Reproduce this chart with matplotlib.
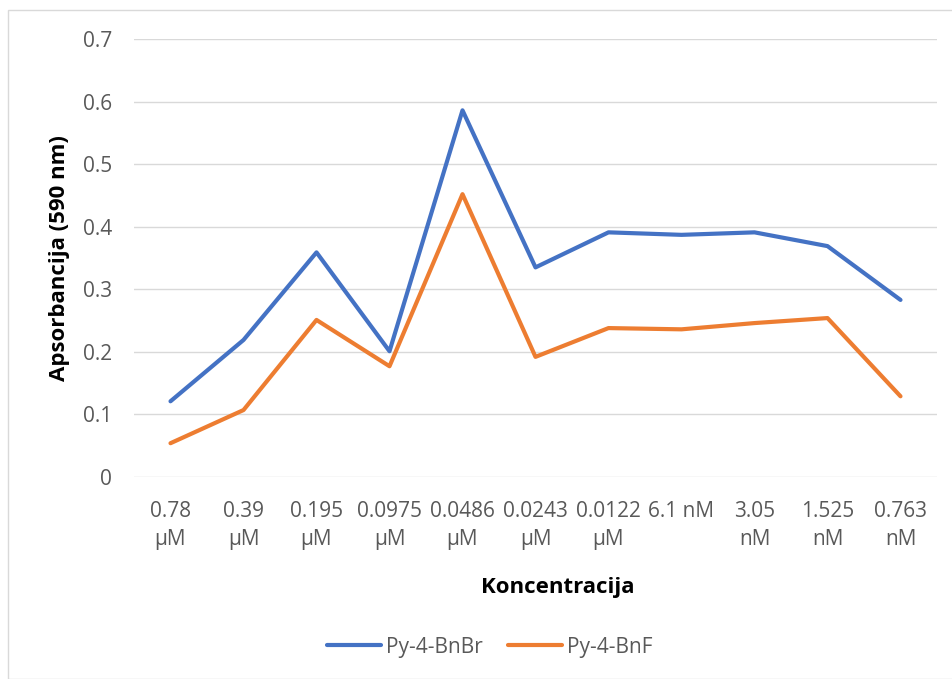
import matplotlib.pyplot as plt
from matplotlib.patches import Rectangle

# === Данные ===
categories = ["0.78\nµM", "0.39\nµM", "0.195\nµM", "0.0975\nµM", "0.0486\nµM",
              "0.0243\nµM", "0.0122\nµM", "6.1 nM\n", "3.05\nnM", "1.525\nnM", "0.763\nnM"]
py_bnbr = [0.121, 0.219, 0.359, 0.201, 0.586, 0.335, 0.391, 0.387, 0.391, 0.369, 0.283]
py_bnf = [0.054, 0.107, 0.251, 0.177, 0.452, 0.192, 0.238, 0.236, 0.246, 0.254, 0.129]
y_ticks = [0, 0.1, 0.2, 0.3, 0.4, 0.5, 0.6, 0.7]

W, H = 952, 679
plt.rcParams['font.family'] = ['Open Sans', 'DejaVu Sans']

fig = plt.figure(figsize=(W / 100, H / 100), dpi=100)
# рамка области диаграммы
fig.patches.append(Rectangle((8 / W, 0), 1, 1 - 10 / H, transform=fig.transFigure,
                             fill=False, edgecolor='#D9D9D9', lw=1))

left, right, top, bottom = 134, 937, 39, 477
ax = fig.add_axes([left / W, 1 - bottom / H, (right - left) / W, (bottom - top) / H])

x = list(range(len(categories)))
ax.plot(x, py_bnbr, color='#4472C4', lw=3, solid_capstyle='round', solid_joinstyle='round',
        label='Py-4-BnBr', zorder=3)
ax.plot(x, py_bnf, color='#ED7D31', lw=3, solid_capstyle='round', solid_joinstyle='round',
        label='Py-4-BnF', zorder=3)

ax.set_xlim(-0.5, len(categories) - 0.5)
ax.set_ylim(0, 0.7)
ax.set_yticks(y_ticks)
ax.set_yticklabels(['0'] + [f'{v:.1f}' for v in y_ticks[1:]])
ax.set_xticks(x)
ax.set_xticklabels(categories, linespacing=1.45)
ax.tick_params(length=0, labelsize=15, colors='#595959')
ax.tick_params(axis='y', pad=16)
ax.tick_params(axis='x', pad=17)
ax.grid(axis='y', color='#D9D9D9', lw=1)
ax.set_axisbelow(True)
for s in ax.spines.values():
    s.set_visible(False)

fig.text(558 / W, 1 - 587 / H, 'Koncentracija', ha='center', va='center',
         fontsize=16, fontweight='bold', color='black')
fig.text(60 / W, 1 - 258 / H, 'Apsorbancija (590 nm)', ha='center', va='center',
         rotation=90, fontsize=16, fontweight='bold', color='black')

fig.legend(loc='center', bbox_to_anchor=(490 / W, 1 - 647 / H), ncol=2, frameon=False,
           fontsize=15, handlelength=2.6, columnspacing=1.2, handletextpad=0.25,
           labelcolor='#595959')

fig.savefig('out.png', dpi=100)
